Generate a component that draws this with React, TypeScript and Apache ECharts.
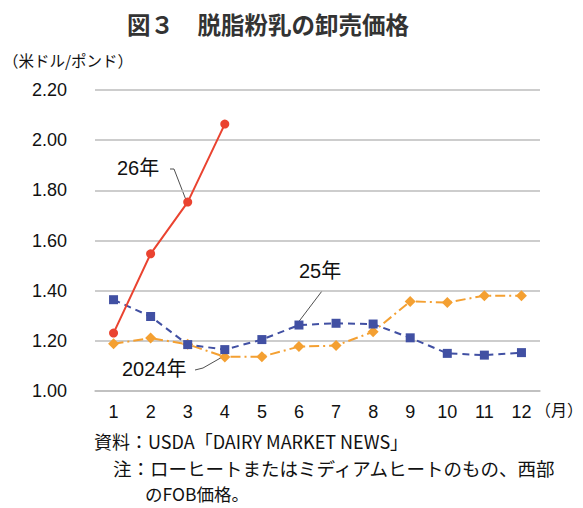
import React, { useEffect, useRef } from "react";
import * as echarts from "echarts";

const months = ["1", "2", "3", "4", "5", "6", "7", "8", "9", "10", "11", "12"];
const y2024 = [1.188, 1.211, 1.186, 1.136, 1.137, 1.177, 1.181, 1.236, 1.357, 1.353, 1.38, 1.38];
const y2025 = [1.364, 1.297, 1.185, 1.165, 1.205, 1.263, 1.27, 1.267, 1.212, 1.15, 1.143, 1.153];
const y2026 = [1.231, 1.547, 1.753, 2.064];
const yTicks = { min: 1.0, max: 2.2, interval: 0.2 };

const JP = "'Noto Sans CJK JP', sans-serif";
const NUM = "'Liberation Sans', 'Noto Sans CJK JP', sans-serif";

export default function App() {
  const ref = useRef<HTMLDivElement>(null);
  useEffect(() => {
    document.body.style.margin = "0";
    const chart = echarts.init(ref.current!, null, { renderer: "svg" });
    chart.setOption({
      animation: false,
      backgroundColor: "#ffffff",
      title: {
        text: "図３　脱脂粉乳の卸売価格",
        left: 122,
        top: 7,
        textStyle: { fontFamily: JP, fontSize: 23.5, fontWeight: "bold", color: "#333333" },
      },
      grid: { left: 95, right: 43, top: 90, bottom: 117, containLabel: false },
      xAxis: {
        type: "category",
        data: months,
        boundaryGap: true,
        axisLine: { show: true, lineStyle: { color: "#bdbdbd", width: 1.5 } },
        axisTick: { show: false },
        axisLabel: { color: "#111", fontFamily: NUM, fontSize: 18, margin: 12 },
      },
      yAxis: {
        type: "value",
        min: yTicks.min,
        max: yTicks.max,
        interval: yTicks.interval,
        axisLine: { show: false },
        axisTick: { show: false },
        axisLabel: {
          color: "#111",
          fontFamily: NUM,
          fontSize: 18,
          margin: 28,
          formatter: (v: number) => v.toFixed(2),
        },
        splitLine: { lineStyle: { color: "#bdbdbd", width: 1.5 } },
      },
      series: [
        {
          name: "2024年",
          type: "line",
          data: y2024,
          symbol: "diamond",
          symbolSize: 11,
          itemStyle: { color: "#f4a032" },
          lineStyle: { color: "#f4a032", width: 2, type: [10, 4, 2, 4] },
          z: 2,
        },
        {
          name: "25年",
          type: "line",
          data: y2025,
          symbol: "rect",
          symbolSize: 9,
          itemStyle: { color: "#4150a3" },
          lineStyle: { color: "#4150a3", width: 2, type: [7, 5] },
          z: 3,
        },
        {
          name: "26年",
          type: "line",
          data: y2026,
          symbol: "circle",
          symbolSize: 9,
          itemStyle: { color: "#ea4330" },
          lineStyle: { color: "#ea4330", width: 2 },
          z: 4,
        },
      ],
      graphic: [
        { type: "text", left: 3, top: 52, style: { text: "（米ドル/ポンド）", fontFamily: JP, fontSize: 15.5, fill: "#111" } },
        { type: "text", left: 535, top: 401, style: { text: "（月）", fontFamily: JP, fontSize: 16, fill: "#111" } },
        { type: "text", left: 117, top: 158, style: { text: "26年", fontFamily: NUM, fontSize: 20, fill: "#111" } },
        { type: "polyline", shape: { points: [[170, 169], [174, 169], [186, 200]] }, style: { stroke: "#222", lineWidth: 0.8, fill: null } },
        { type: "text", left: 299, top: 261, style: { text: "25年", fontFamily: NUM, fontSize: 20, fill: "#111" } },
        { type: "line", shape: { x1: 322, y1: 291, x2: 297, y2: 324 }, style: { stroke: "#222", lineWidth: 0.8 } },
        { type: "text", left: 122, top: 359, style: { text: "2024年", fontFamily: NUM, fontSize: 20, fill: "#111" } },
        { type: "polyline", shape: { points: [[195, 370], [203, 368], [224, 356]] }, style: { stroke: "#222", lineWidth: 0.8, fill: null } },
        { type: "text", left: 94, top: 432, style: { text: "資料：USDA「DAIRY MARKET NEWS」", fontFamily: JP, fontSize: 18, fill: "#111" } },
        { type: "text", left: 113, top: 459, style: { text: "注：ローヒートまたはミディアムヒートのもの、西部", fontFamily: JP, fontSize: 18.5, fill: "#111" } },
        { type: "text", left: 145, top: 485, style: { text: "のFOB価格。", fontFamily: JP, fontSize: 17.5, fill: "#111" } },
      ],
    });
    return () => chart.dispose();
  }, []);
  return <div ref={ref} style={{ width: 583, height: 508 }} />;
}
